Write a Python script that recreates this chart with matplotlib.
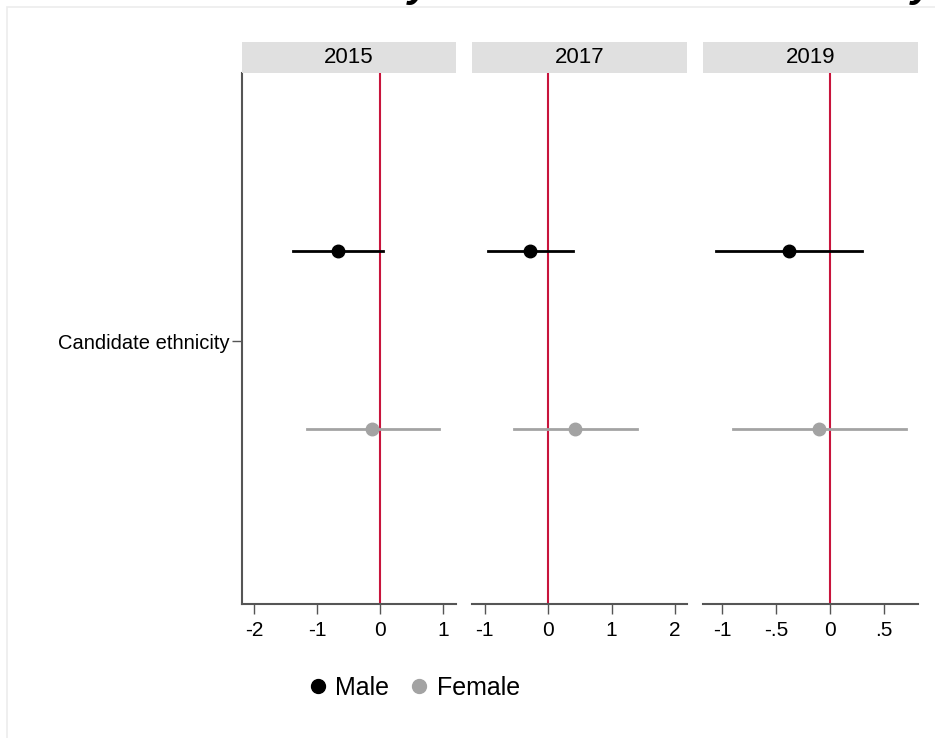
import matplotlib
matplotlib.use("Agg")
import matplotlib.pyplot as plt
from matplotlib.lines import Line2D
from matplotlib.patches import Rectangle

plt.rcParams['font.family'] = ['Liberation Sans', 'DejaVu Sans']

years = ['2015', '2017', '2019']
row_label = 'Candidate ethnicity'

male_est = [-0.67, -0.28, -0.38]
male_lo = [-1.38, -0.95, -1.06]
male_hi = [0.05, 0.40, 0.30]

female_est = [-0.12, 0.42, -0.10]
female_lo = [-1.16, -0.54, -0.90]
female_hi = [0.94, 1.40, 0.70]

xlims = [(-2.19, 1.21), (-1.20, 2.19), (-1.18, 0.815)]
xticks = [[-2, -1, 0, 1], [-1, 0, 1, 2], [-1, -0.5, 0, 0.5]]
xticklabels = [['-2', '-1', '0', '1'], ['-1', '0', '1', '2'], ['-1', '-.5', '0', '.5']]

male_col = 'black'
female_col = '#a3a3a3'
ref_col = '#c8143c'

W, H = 935, 738
fig = plt.figure(figsize=(W / 100, H / 100), dpi=100)
fig.patch.set_facecolor('white')

# faint outer frame
fig.add_artist(Rectangle((7 / W, -0.1), 1.2, 1.1 - 7 / H, transform=fig.transFigure,
                         fill=False, edgecolor='#ececec', linewidth=1.2))

# tails of the title line sitting just above the top edge
for tx in (408, 911):
    fig.text(tx / W, 1 + 4 / H, 'y', fontsize=30, fontweight='bold', style='italic',
             va='baseline', ha='left', color='black')

panels_x = [(242, 456), (472, 687), (703, 918)]
top, bottom = 73, 604
strip_top = 42

y_male, y_female, y_cat = 1.33, 0.66, 0.99

for i, (x0, x1) in enumerate(panels_x):
    ax = fig.add_axes([x0 / W, 1 - bottom / H, (x1 - x0) / W, (bottom - top) / H])
    ax.set_xlim(*xlims[i])
    ax.set_ylim(0, 2)
    ax.axvline(0, color=ref_col, lw=1.5, zorder=1)

    ax.plot([male_lo[i], male_hi[i]], [y_male, y_male], color=male_col, lw=2, zorder=2)
    ax.plot(male_est[i], y_male, 'o', color=male_col, ms=9, zorder=3)
    ax.plot([female_lo[i], female_hi[i]], [y_female, y_female], color=female_col, lw=2, zorder=2)
    ax.plot(female_est[i], y_female, 'o', color=female_col, ms=9, zorder=3)

    ax.set_xticks(xticks[i])
    ax.set_xticklabels(xticklabels[i])
    ax.tick_params(axis='x', length=7, width=1, color='#555555', labelsize=15, pad=5)
    for s in ('top', 'right'):
        ax.spines[s].set_visible(False)
    ax.spines['bottom'].set_color('#555555')
    ax.spines['bottom'].set_linewidth(1.5)
    if i == 0:
        ax.spines['left'].set_color('#555555')
        ax.spines['left'].set_linewidth(1.5)
        ax.set_yticks([y_cat])
        ax.set_yticklabels([row_label])
        ax.tick_params(axis='y', length=7, width=1, color='#555555', labelsize=14.5, pad=2)
    else:
        ax.spines['left'].set_visible(False)
        ax.set_yticks([])

    # strip header
    sax = fig.add_axes([x0 / W, 1 - top / H, (x1 - x0) / W, (top - strip_top) / H])
    sax.set_facecolor('#e0e0e0')
    sax.set_xticks([])
    sax.set_yticks([])
    for s in sax.spines.values():
        s.set_visible(False)
    sax.text(0.5, 0.5, years[i], ha='center', va='center', fontsize=16, transform=sax.transAxes)

handles = [Line2D([], [], marker='o', linestyle='none', color=male_col, ms=10, label='Male'),
           Line2D([], [], marker='o', linestyle='none', color=female_col, ms=10, label='Female')]
fig.legend(handles=handles, loc='center', bbox_to_anchor=(414 / W, 1 - 688 / H), ncol=2,
           frameon=False, fontsize=18, handlelength=0.8, handletextpad=0.3, columnspacing=0.8)

fig.savefig('out.png', dpi=100)
